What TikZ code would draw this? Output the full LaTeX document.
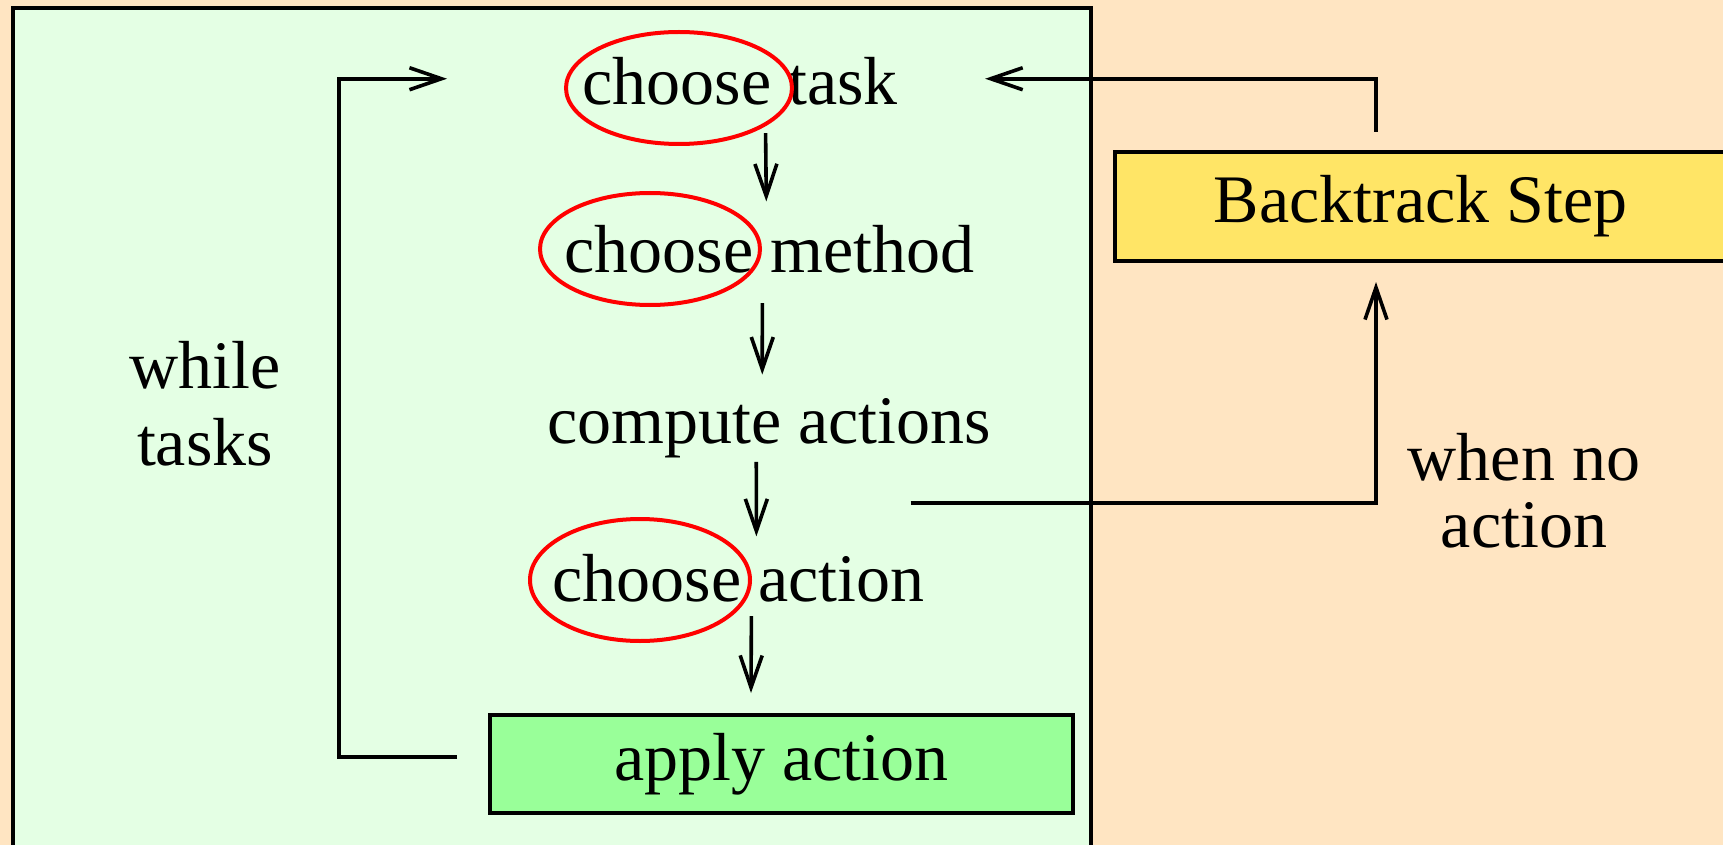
\documentclass[tikz,border=0pt]{standalone}
\usepackage{fontspec}
\setmainfont{Liberation Serif}
\usetikzlibrary{arrows.meta,calc,shapes.geometric}
\definecolor{bgpeach}{HTML}{FFE5C2}
\definecolor{panelgreen}{HTML}{E4FFE4}
\definecolor{btyellow}{HTML}{FFE566}
\definecolor{applygreen}{HTML}{99FF99}
\begin{document}
\begin{tikzpicture}[x=0.5pt,y=-0.5pt,
  every node/.style={font=\fontsize{34pt}{40pt}\selectfont},
  txt/.style={inner sep=0pt, anchor=base west},
  ring/.style={draw=red, line width=2pt, ellipse, inner sep=0pt},
  arr/.style={draw=black, line width=1.8pt, -{Straight Barb[length=16pt,width=11pt]}},
  boxstyle/.style={draw=black, line width=2pt, inner sep=0pt}
]
\fill[bgpeach] (0,0) rectangle (1723,845);
\useasboundingbox (0,0) rectangle (1723,845);
% panel
\path[fill=panelgreen, draw=black, line width=2pt] (13,8) rectangle (1091,880);

% rows
\node[txt] (t1) at (582,105) {choose task};
\node[txt] (t2) at (564,272) {choose method};
\node[txt] (t3) at (547,443) {compute actions};
\node[txt] (t4) at (552,601) {choose action};

% red ellipses
\node[ring, minimum width=113pt, minimum height=56pt] (e1) at (679,88) {};
\node[ring, minimum width=110pt, minimum height=56pt] (e2) at (650,249) {};
\node[ring, minimum width=110pt, minimum height=61pt] (e3) at (640,580) {};

% apply action box
\node[boxstyle, fill=applygreen, minimum width=291.5pt, minimum height=49pt] (ap) at (781.5,764) {apply action};

% backtrack box
\node[boxstyle, fill=btyellow, minimum width=305.5pt, minimum height=54.5pt] (bt) at (1420.5,206.5) {Backtrack Step};

% labels
\node[align=center, inner sep=0pt, font=\fontsize{34pt}{38.5pt}\selectfont] (wt) at (205,403.5) {while\\tasks};
\node[align=center, inner sep=0pt, font=\fontsize{34pt}{33.5pt}\selectfont] (wn) at (1524,490.5) {when no\\action};

% vertical arrows
\draw[arr] ($(t1.south)+(25.5,27)$) -- ($(t2.north)+(-3,-23)$);
\draw[arr] ($(t2.south)+(-7,30)$) -- ($(t3.north)+(-7,-23)$);
\draw[arr] ($(t3.south)+(-13,4)$) -- ($(t4.north)+(18,-17)$);
\draw[arr] ($(t4.south)+(13,14)$) -- ($(ap.north)+(-30.5,-20)$);

% loop back
\draw[arr] ($(ap.west)+(-31,-7)$) -- ($(ap.west)+(-149,-7)$) |- ($(t1.west)+(-135,-3)$);

% backtrack to choose task
\draw[arr] ($(bt.north)+(-44.5,-18)$) |- ($(t1.east)+(87,-3)$);

% compute actions to backtrack
\draw[arr] ($(t3.east)+(-81,75.5)$) -| ($(bt.south)+(-44.5,19)$);
\end{tikzpicture}
\end{document}
